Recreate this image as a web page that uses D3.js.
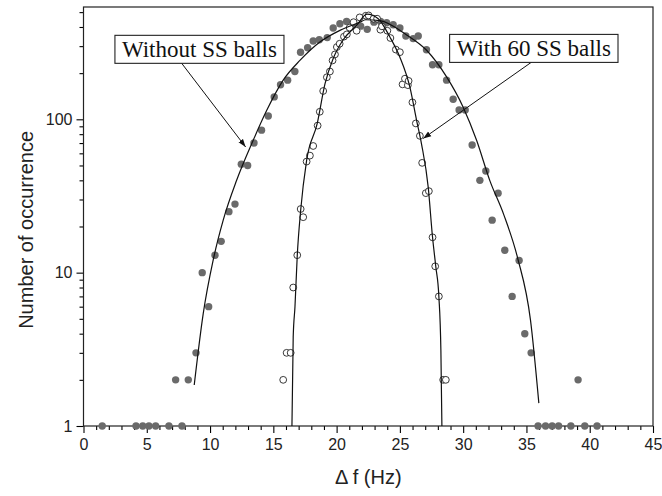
<!DOCTYPE html>
<html>
<head>
<meta charset="utf-8">
<script src="https://cdn.jsdelivr.net/npm/d3@7"></script>
<style>
  body { margin: 0; background: #fff; }
  svg { display: block; }
</style>
</head>
<body>
<div id="chart"></div>
<script>
// without SS balls (filled dots)
const withoutX = [1.48, 4.15, 4.68, 5.17, 5.70, 6.75, 7.28, 7.78, 8.28, 8.89, 9.38, 9.89, 10.39, 10.88, 11.49, 11.97,
    12.47, 12.97, 13.47, 14.07, 14.6, 15.07, 15.57, 16.13, 16.7, 17.15, 17.71, 18.15, 18.63, 19.26, 19.73, 20.26,
    20.79, 21.31, 21.9, 22.42, 22.95, 23.47, 23.95, 24.47, 25.0, 25.47, 26.05, 26.45, 27.1, 27.58, 28.08, 28.69,
    29.21, 29.68, 30.16, 30.71, 31.32, 31.79, 32.29, 32.76, 33.29, 33.87, 34.42, 34.87, 35.37, 35.92, 36.51,
    37.03, 37.54, 38.51, 39.08, 39.61, 40.58];
const withoutY = [1, 1, 1, 1, 1, 1, 2, 1, 2, 3, 10, 6, 13, 16, 25, 28,
    51, 50, 70, 85, 105, 140, 168, 180, 205, 274, 293, 324, 330, 341, 394, 420,
    435, 410, 405, 386, 430, 435, 426, 414, 394, 349, 336, 349, 284, 227, 227, 180,
    135, 115, 115, 68, 40, 46, 22, 33, 14, 7, 12, 4, 3, 1, 1,
    1, 1, 1, 2, 1, 1];

// with 60 SS balls (open circles)
const withX = [15.78, 16.05, 16.37, 16.57, 16.89, 17.16, 17.36, 17.63, 17.89, 18.15, 18.5, 18.67, 18.94, 19.23,
    19.47, 19.68, 19.87, 20.02, 20.24, 20.58, 20.81, 21.03, 21.34, 21.58, 21.82, 22.31, 22.53, 22.92, 23.2,
    23.46, 23.58, 24.01, 24.25, 24.68, 25.0, 25.21, 25.4, 25.63, 25.69, 25.99, 26.26, 26.58, 26.76, 27.05,
    27.29, 27.58, 27.79, 28.08, 28.42, 28.63];
const withY = [2, 3, 3, 8, 13, 26, 23, 53, 58, 67, 91, 112, 153, 188,
    205, 242, 265, 296, 311, 346, 358, 396, 430, 378, 462, 474, 476, 453, 453,
    384, 404, 378, 339, 285, 274, 169, 184, 167, 178, 129, 94, 78, 52, 33,
    34, 17, 11, 7, 2, 2];

// fitted curves
const fitWithoutX = [8.75, 9.46, 10.25, 11.04, 12.1, 13.41, 14.47, 15.78, 17.1, 18.68, 20.26, 21.84, 22.3,
    23.42, 25.53, 27.11, 28.69, 30.0, 31.06, 32.1, 33.2, 34.3, 35.32, 35.98];
const fitWithoutY = [1.85, 5.4, 12.1, 22, 40, 73, 114, 180, 242, 319, 380, 430, 446,
    440, 355, 282, 189, 120, 73, 40, 24, 12.5, 4.9, 1.41];
const fitWithX = [16.47, 16.57, 16.71, 16.89, 17.16, 17.63, 18.47, 19.08, 19.73, 20.52, 21.58, 22.4,
    23.29, 24.21, 25.0, 25.79, 26.32, 26.71, 27.24, 27.58, 27.84, 28.08, 28.24, 28.32];
const fitWithY = [1, 3.8, 6, 12.9, 25.5, 54, 94, 170, 249, 330, 410, 485,
    453, 344, 254, 162, 98.5, 69, 36, 17, 10.9, 7, 3.1, 1];

const xTicks = [0, 5, 10, 15, 20, 25, 30, 35, 40, 45];
const yTicks = [1, 10, 100];

// annotations: label, box centre, arrow start and arrow tip (data units)
const notes = [
    { text: "Without SS balls", cx: 9.16, cy: 286, sx: 7.62, sy: 240, tx: 12.81, ty: 66 },
    { text: "With 60 SS balls", cx: 35.58, cy: 290, sx: 35.53, sy: 240, tx: 26.84, ty: 75 }
];

const width = 662;
const height = 496;
const margin = { top: 7, right: 9, bottom: 70, left: 83.5 };

const svg = d3.select("#chart")
    .append("svg")
    .attr("width", width)
    .attr("height", height);

const x = d3.scaleLinear()
    .domain([0, 45])
    .range([margin.left, width - margin.right]);

const y = d3.scaleLog()
    .domain([1, 540])
    .range([height - margin.bottom, margin.top]);

const sans = "'Liberation Sans', Arial, Helvetica, sans-serif";
const serif = "'Liberation Serif', 'Times New Roman', serif";

// x axis: major every 5, minor every 1
const xMinor = d3.range(0, 46).filter(d => d % 5 !== 0);
svg.append("g")
    .attr("transform", `translate(0,${height - margin.bottom})`)
    .call(d3.axisBottom(x).tickValues(xMinor).tickSize(4).tickFormat(""))
    .call(g => g.select(".domain").remove())
    .attr("stroke-width", 1.1);

svg.append("g")
    .attr("transform", `translate(0,${height - margin.bottom})`)
    .call(d3.axisBottom(x).tickValues(xTicks).tickSize(7).tickPadding(6))
    .call(g => g.select(".domain").remove())
    .call(g => g.selectAll("line").attr("stroke-width", 1.1))
    .call(g => g.selectAll("text").attr("fill", "#222"))
    .attr("font-size", 16)
    .attr("font-family", sans);

// y axis: log ticks
const yMinor = [];
[1, 10, 100].forEach(dec => {
    for (let k = 2; k <= 9; k++) {
        if (dec * k <= 540) yMinor.push(dec * k);
    }
});
svg.append("g")
    .attr("transform", `translate(${margin.left},0)`)
    .call(d3.axisLeft(y).tickValues(yMinor).tickSize(4).tickFormat(""))
    .call(g => g.select(".domain").remove())
    .attr("stroke-width", 1.1);

svg.append("g")
    .attr("transform", `translate(${margin.left},0)`)
    .call(d3.axisLeft(y).tickValues(yTicks).tickSize(7).tickPadding(4).tickFormat(d3.format("d")))
    .call(g => g.select(".domain").remove())
    .call(g => g.selectAll("line").attr("stroke-width", 1.1))
    .call(g => g.selectAll("text").attr("fill", "#222"))
    .attr("font-size", 16)
    .attr("font-family", sans);

// frame
svg.append("rect")
    .attr("x", margin.left)
    .attr("y", margin.top)
    .attr("width", width - margin.left - margin.right)
    .attr("height", height - margin.top - margin.bottom)
    .attr("fill", "none")
    .attr("stroke", "#222")
    .attr("stroke-width", 1.2);

// axis titles
svg.append("text")
    .attr("x", x(22.5))
    .attr("y", height - 12)
    .attr("text-anchor", "middle")
    .attr("font-family", sans)
    .attr("font-size", 20)
    .attr("fill", "#222")
    .text("Δ f (Hz)");

svg.append("text")
    .attr("transform", `translate(26,${y(19)}) rotate(-90)`)
    .attr("text-anchor", "middle")
    .attr("dy", "0.35em")
    .attr("font-family", sans)
    .attr("font-size", 20)
    .attr("fill", "#222")
    .text("Number of occurrence");

const plot = svg.append("g");

// filled dots
plot.append("g")
    .attr("fill", "#6a6a6a")
    .selectAll("circle")
    .data(d3.zip(withoutX, withoutY))
    .join("circle")
    .attr("cx", d => x(d[0]))
    .attr("cy", d => y(d[1]))
    .attr("r", 3.7);

// open circles
plot.append("g")
    .attr("fill", "#fff")
    .attr("stroke", "#222")
    .attr("stroke-width", 0.9)
    .selectAll("circle")
    .data(d3.zip(withX, withY))
    .join("circle")
    .attr("cx", d => x(d[0]))
    .attr("cy", d => y(d[1]))
    .attr("r", 3.4);

// fit lines
const line = d3.line()
    .x(d => x(d[0]))
    .y(d => y(d[1]))
    .curve(d3.curveMonotoneX);

[[fitWithoutX, fitWithoutY], [fitWithX, fitWithY]].forEach(([fx, fy]) => {
    plot.append("path")
        .datum(d3.zip(fx, fy))
        .attr("fill", "none")
        .attr("stroke", "#111")
        .attr("stroke-width", 1.2)
        .attr("d", line);
});

// annotations
svg.append("defs").append("marker")
    .attr("id", "head")
    .attr("viewBox", "0 0 10 10")
    .attr("refX", 10)
    .attr("refY", 5)
    .attr("markerWidth", 8)
    .attr("markerHeight", 8)
    .attr("markerUnits", "userSpaceOnUse")
    .attr("orient", "auto")
    .append("path")
    .attr("d", "M0,1.5L10,5L0,8.5Z")
    .attr("fill", "#111");

notes.forEach(n => {
    const g = svg.append("g");
    g.append("line")
        .attr("x1", x(n.sx))
        .attr("y1", y(n.sy))
        .attr("x2", x(n.tx))
        .attr("y2", y(n.ty))
        .attr("stroke", "#111")
        .attr("stroke-width", 1)
        .attr("marker-end", "url(#head)");
    const t = g.append("text")
        .attr("x", x(n.cx))
        .attr("y", y(n.cy))
        .attr("dy", "0.35em")
        .attr("text-anchor", "middle")
        .attr("font-family", serif)
        .attr("font-size", 23)
        .attr("fill", "#111")
        .text(n.text);
    const bb = t.node().getBBox();
    g.insert("rect", "text")
        .attr("x", bb.x - 7)
        .attr("y", y(n.cy) - 14)
        .attr("width", bb.width + 14)
        .attr("height", 28)
        .attr("fill", "#fff")
        .attr("stroke", "#222")
        .attr("stroke-width", 1.1);
});
</script>
</body>
</html>
